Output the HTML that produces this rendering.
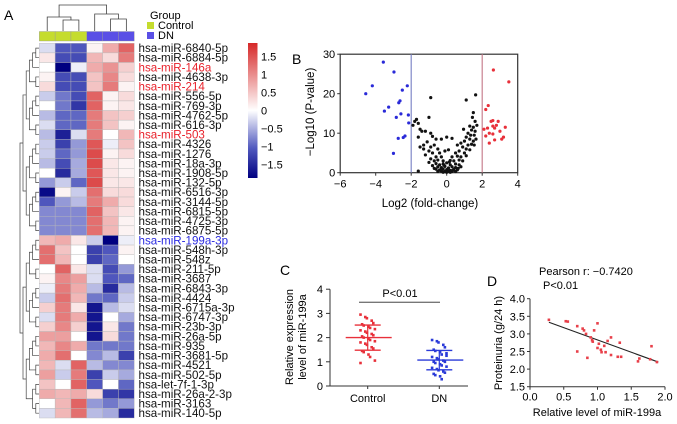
<!DOCTYPE html>
<html><head><meta charset="utf-8"><style>
html,body{margin:0;padding:0;background:#fff}
svg{display:block;font-family:"Liberation Sans",Arial,sans-serif}
</style></head><body>
<svg id="fig" width="677" height="424" viewBox="0 0 677 424">
<g id="pA"></g>
<g id="pB"></g>
<g id="pC"></g>
<g id="pD"></g>
</svg>
<script>
// ---------- Panel A data ----------
const mirLabels=["hsa-miR-6840-5p","hsa-miR-6884-5p","hsa-miR-146a","hsa-miR-4638-3p","hsa-miR-214","hsa-miR-556-5p","hsa-miR-769-3p","hsa-miR-4762-5p","hsa-miR-616-3p","hsa-miR-503","hsa-miR-4326","hsa-miR-1276","hsa-miR-18a-3p","hsa-miR-1908-5p","hsa-miR-132-5p","hsa-miR-6516-3p","hsa-miR-3144-5p","hsa-miR-6815-5p","hsa-miR-4725-3p","hsa-miR-6875-5p","hsa-miR-199a-3p","hsa-miR-548h-3p","hsa-miR-548z","hsa-miR-211-5p","hsa-miR-3687","hsa-miR-6843-3p","hsa-miR-4424","hsa-miR-6715a-3p","hsa-miR-6747-3p","hsa-miR-23b-3p","hsa-miR-26a-5p","hsa-miR-935","hsa-miR-3681-5p","hsa-miR-4521","hsa-miR-502-5p","hsa-let-7f-1-3p","hsa-miR-26a-2-3p","hsa-miR-3163","hsa-miR-140-5p"];
const labelColors={"hsa-miR-146a":"#e8202a","hsa-miR-214":"#e8202a","hsa-miR-503":"#e8202a","hsa-miR-199a-3p":"#2a2ae0"};
const sampleGroups=["Control","Control","Control","DN","DN","DN"];
const heatValues=[
[-0.2,-1,-1,0.1,0.7,1.3],[0.2,-1.1,-1.1,0.6,0.3,1.1],[0,-1.8,-0.1,0.7,0.9,0.4],[0.1,-1.1,-1.1,0.5,1.0,0.3],[0.3,-1.1,-1.1,0.5,1.1,0.1],
[-0.3,-0.8,-1.1,1.3,0.1,0.3],[0,-0.8,-1.3,1.3,0.1,0.2],[-0.4,-0.9,-0.9,1.1,0.5,0.4],[-0.2,-0.9,-0.9,1.1,0.5,0.1],[-0.4,-1.5,-0.2,1.1,0,0.6],
[-0.3,-1.2,-0.6,1.4,-0.1,0.5],[-0.3,-0.9,-0.6,1.5,0.1,0.3],[-0.4,-1.1,-0.5,1.5,0.2,0.1],[0,-1.4,-0.5,1.4,0.2,0.1],[-0.6,-0.3,-0.9,1.5,0.2,0.2],
[-1.7,0.1,-0.3,1.2,0.3,0.3],[-1.0,-0.6,-0.4,1.1,0.7,0.3],[-0.7,-0.7,-0.7,1.3,0.5,0.2],[-0.7,-0.7,-0.7,1.2,0.6,0.1],[-0.7,-0.7,-0.7,1.2,0.6,0.1],
[0.6,0.7,0.2,-0.3,-1.8,-0.1],[1.2,0.5,0,-1.2,-1.0,0.1],[1.2,0.6,0,-1.2,-0.9,0],[0,1.3,0.2,-0.2,-1.1,-0.6],[0.1,1.0,0.8,-0.2,-1.0,-0.9],
[-0.1,1.1,0.7,-0.4,-1.4,-0.4],[-0.3,1.2,0.6,-0.8,-0.9,-0.3],[0.4,1.1,0.2,-1.6,-0.4,-0.2],[-0.2,1.1,0.7,-1.6,0,-0.5],[0.4,1.0,0.4,-1.6,0.2,-0.8],
[0.8,0.8,0,-1.6,0.3,-0.8],[0.6,1.0,0.7,-0.8,-0.8,-0.8],[0.7,1.2,0,-0.7,-0.4,-1.2],[0.6,-0.2,1.3,-0.4,-0.7,-0.7],[0.8,-0.3,1.1,-1.2,-0.3,-0.5],
[0.5,0,1.3,-1.0,0,-0.9],[0.7,0.6,0.7,0.3,-1.2,-1.3],[0,0.6,1.3,-0.6,-0.8,-0.6],[-0.2,0.6,1.2,-0.4,-0.5,-1.4]];
const colorbarTicks=[1.5,1,0.5,0,-0.5,-1,-1.5];
const colorbarTickLabels=["1.5","1","0.5","0","\u22120.5","\u22121","\u22121.5"];

// ---------- Panel B data ----------
const volcXTicks=[-6,-4,-2,0,2,4];
const volcXTickLabels=["\u22126","\u22124","\u22122","0","2","4"];
const volcYTicks=[0,10,20,30];
const volcBlue=[[-3.57,28],[-2.97,25.5],[-4.19,22],[-4.56,20],[-2.22,22],[-2.5,20.9],[-2.63,18.2],[-2.7,17.7],[-3.27,16.6],[-3.51,15.6],[-2.84,14],[-2.58,14.9],[-2.16,14.6],[-2.14,12.6],[-2.73,8.7],[-2.35,9.3],[-2.45,8.9],[-3.0,4.9]];
const volcRed=[[2.63,26],[3.5,23],[2.34,17],[2.2,16],[2.5,13],[2.6,13.2],[2.9,13],[3.3,11.5],[2.1,11],[2.3,11.3],[2.6,11.8],[2.8,12],[2.7,11.3],[2.4,10],[2.6,9.8],[2.2,9.3],[3.1,8.5],[3.2,9],[2.7,8.3],[2.4,7.5],[3.0,10.5]];
const volcBlack=[[-0.9,19],[1.63,19.7],[1.1,18.4],[-1.0,14],[1.5,15.2],[1.45,14],[-1.7,13.5],[-1.8,13],[-1.6,12.5],[-1.9,12],[-1.5,11],[-1.4,10.5],[-1.2,10.5],[1.6,13],[1.7,12],[1.3,11.8],[1.5,11.5],[1.4,10.8],[1.6,10.5],[1.2,10],[1.35,9.5],[1.55,9.5],[-0.9,10],[-0.8,9.2],[-0.6,8.5],[-0.3,8.5],[0,9],[0.3,8.7],[1.1,9],[1.3,8.5],[1.0,8],[1.5,8],[0.8,7.5],[1.2,7],[1.4,7.2],[0.6,7],[-1.1,7.8],[-1.3,7],[-0.9,6.5],[-0.7,7],[-0.5,6],[-1.0,5.5],[-0.8,5],[-0.4,5],[0.9,6.5],[1.1,6],[0.7,5.5],[0.5,5],[1.0,5],[1.3,5.8],[-1.2,4.5],[-0.6,4],[-0.3,4],[0.3,4],[0.6,4.2],[0.8,4],[1.1,4.3],[-0.9,3.5],[-0.7,3],[-0.5,3.2],[-0.2,3],[0.2,3.1],[0.4,3],[0.7,3.2],[0.9,3],[-1.0,2.6],[-0.6,2.3],[-0.4,2],[-0.2,2.2],[0,2.5],[0.2,2],[0.5,2.2],[0.7,2],[-0.8,1.8],[-0.5,1.5],[-0.3,1.3],[-0.1,1.6],[0.1,1.2],[0.3,1.5],[0.5,1.3],[0.8,1.5],[-0.6,0.9],[-0.4,0.7],[-0.2,0.9],[0,0.8],[0.2,0.6],[0.4,0.9],[0.6,0.7],[-0.3,0.4],[-0.1,0.3],[0.1,0.4],[0.3,0.3],[-0.5,0.3],[0.5,0.3],[0,0.1],[-0.2,0.1],[0.2,0.1],[-1.6,0.4],[-1.3,6],[-1.5,6.5],[1.55,7],[1.65,8.5],[-0.1,5.5],[0.1,5.8],[-1.6,9],[0.95,11],[-0.15,1.9],[0.15,2.7],[-0.7,1.1],[0.65,1.1],[0.35,0.6],[-0.35,0.6]];
const volcThresholds=[-2,2];

// ---------- Panel C data ----------
const cCategories=["Control","DN"];
const cYTicks=[0,1,2,3,4];
const cControl=[2.95,2.85,2.8,2.7,2.6,2.55,2.5,2.45,2.4,2.35,2.3,2.25,2.2,2.15,2.1,2.05,2.0,1.95,1.9,1.85,1.8,1.75,1.7,1.6,1.55,1.45,1.4,1.3,1.2,1.05,0.95];
const cDN=[1.9,1.85,1.8,1.7,1.6,1.5,1.45,1.4,1.3,1.25,1.2,1.15,1.1,1.05,1.0,1.0,0.95,0.9,0.85,0.8,0.75,0.7,0.65,0.6,0.55,0.5,0.45,0.4,0.28,1.35];
const cMeans=[2.0,1.07];
const cSDs=[0.52,0.4];

// ---------- Panel D data ----------
const dXTicks=[0,0.5,1.0,1.5,2.0];
const dXTickLabels=["0.0","0.5","1.0","1.5","2.0"];
const dYTicks=[1.5,2.0,2.5,3.0,3.5,4.0];
const dYTickLabels=["1.5","2.0","2.5","3.0","3.5","4.0"];
const dX=[0.28,0.53,0.56,0.7,0.78,0.8,0.83,0.92,0.93,0.95,1.0,1.02,1.05,1.06,1.1,1.12,1.15,1.2,1.2,1.3,1.33,1.35,0.7,0.85,1.6,1.62,1.8,1.78,1.88,0.9,1.0];
const dY=[3.4,3.36,3.35,3.22,3.15,3.1,3.0,2.82,2.78,3.1,3.3,2.72,2.55,2.48,2.66,2.48,2.8,2.9,2.4,2.35,2.75,2.35,2.5,2.32,2.22,2.3,2.65,2.28,2.2,2.9,2.6];
const dFit=[[0.28,3.33],[1.9,2.2]];

const NS="http://www.w3.org/2000/svg";
function mk(parent,tag,attrs,text){const e=document.createElementNS(NS,tag);for(const k in attrs)e.setAttribute(k,attrs[k]);if(text!==undefined)e.textContent=text;parent.appendChild(e);return e;}

// ===== Panel A =====
(function(){
const g=document.getElementById('pA');
let t=mk(g,'text',{x:4,y:20,'font-size':14},'A');


const hx=39.3,cw=15.83,hy=43.3,rh=(418-43.3)/mirLabels.length;
function col(v){
 let r,gg,b;
 if(v>=0){const f=Math.min(v/1.8,1);r=255+(214-255)*f;gg=255+(40-255)*f;b=255+(40-255)*f;}
 else{const f=Math.min(-v/1.8,1);
  if(f<0.55){const q=f/0.55;r=255+(80-255)*q;gg=255+(88-255)*q;b=255+(190-255)*q;}
  else{const q=(f-0.55)/0.45;r=80-80*q;gg=88-88*q;b=190+(128-190)*q;}}
 return `rgb(${r|0},${gg|0},${b|0})`;}
sampleGroups.forEach((s,i)=>{
 const r=mk(g,'rect',{x:hx+i*cw,y:31.5,width:cw,height:9.5,fill:s==="Control"?"#c5dc2e":"#5a4fe6",stroke:"#999",'stroke-width':0.4});
 
 
});
heatValues.forEach((row,ri)=>{
 row.forEach((v,ci)=>{
  const r=mk(g,'rect',{x:hx+ci*cw,y:hy+ri*rh,width:cw,height:rh,fill:col(v),stroke:"#b8b8b8",'stroke-width':0.4});
  
  
 });
 const l=mk(g,'text',{x:138.5,y:hy+(ri+0.5)*rh+4,'font-size':11.6,fill:labelColors[mirLabels[ri]]||"#111"},mirLabels[ri]);
 
 
});
const cx=i=>hx+(i+0.5)*cw;
const dg=mk(g,'g',{stroke:"#444",'stroke-width':0.8,fill:"none"});


mk(dg,'path',{d:`M${cx(1)} 31 V20 H${cx(2)} V31 M${cx(0)} 31 V17 H${(cx(1)+cx(2))/2} V20 M${cx(4)} 31 V19 H${cx(5)} V31 M${cx(3)} 31 V14 H${(cx(4)+cx(5))/2} V19 M${(cx(0)+(cx(1)+cx(2))/2)/2} 17 V5 H${(cx(3)+(cx(4)+cx(5))/2)/2} V14`});
const rd=mk(g,'g',{stroke:"#444",'stroke-width':0.7,fill:"none"});


const ry=i=>hy+(i+0.5)*rh;
function bracket(a,b,xa,xb,x){return `M${xa} ${a} H${x} V${b} H${xb}`;}
let d="";
function tree(s,e,depth){
 if(s===e) return [ry(s),39];
 const m=Math.floor((s+e)/2);
 const A=tree(s,m,depth+1),B=tree(m+1,e,depth+1);
 const x=Math.min(A[1],B[1])-3.2;
 d+=bracket(A[0],B[0],A[1],B[1],x);
 return [(A[0]+B[0])/2,x];
}
const T1=tree(0,19,0),T2=tree(20,38,0);
d+=`M${T1[1]} ${T1[0]} H20 V${T2[0]} H${T2[1]}`;
mk(rd,'path',{d:d});
let lg=mk(g,'g',{});


mk(lg,'text',{x:150,y:19,'font-size':11},'Group');
mk(lg,'rect',{x:147,y:22,width:7,height:7,fill:"#c5dc2e"});
mk(lg,'text',{x:158,y:29,'font-size':11},'Control');
mk(lg,'rect',{x:147,y:32,width:7,height:7,fill:"#5a4fe6"});
mk(lg,'text',{x:158,y:39,'font-size':11},'DN');
const defs=mk(g,'defs',{});
const gr=mk(defs,'linearGradient',{id:'cb',x1:0,y1:0,x2:0,y2:1});
[[0,"rgb(214,40,40)"],[0.5,"#fff"],[0.78,"rgb(80,88,190)"],[1,"rgb(0,0,128)"]].forEach(s=>mk(gr,'stop',{offset:s[0],'stop-color':s[1]}));
const cb=mk(g,'rect',{x:248,y:43,width:9.5,height:135,fill:"url(#cb)"});


const cbY=v=>110.5-v*36;
colorbarTicks.forEach((v,i)=>{
 const tl=mk(g,'text',{x:261,y:cbY(v)+4,'font-size':11},colorbarTickLabels[i]);
 
 
});
})();

// ===== Panel B =====
(function(){
const g=document.getElementById('pB');
const X=v=>446.7+v*17.75, Y=v=>172.7-v*3.95;
let t=mk(g,'text',{x:292,y:64,'font-size':14},'B');


const fr=mk(g,'rect',{x:X(-6),y:Y(30),width:X(4)-X(-6),height:Y(0)-Y(30),fill:"none",stroke:"#333",'stroke-width':1.2});


volcThresholds.forEach(v=>{
 const l=mk(g,'line',{x1:X(v),x2:X(v),y1:Y(30),y2:Y(0),stroke:v<0?"#8088c8":"#c88090",'stroke-width':1.2});
 
 
});
volcXTicks.forEach((v,i)=>{
 mk(g,'line',{x1:X(v),x2:X(v),y1:Y(0),y2:Y(0)+3,stroke:"#333"});
 const tl=mk(g,'text',{x:X(v),y:Y(0)+15,'font-size':11,'text-anchor':'middle'},volcXTickLabels[i]);
 
 
});
volcYTicks.forEach(v=>{
 mk(g,'line',{x1:X(-6)-3,x2:X(-6),y1:Y(v),y2:Y(v),stroke:"#333"});
 const tl=mk(g,'text',{x:X(-6)-5,y:Y(v)+4,'font-size':11,'text-anchor':'end'},String(v));
 
 
});
let xt=mk(g,'text',{x:430,y:207,'font-size':11.5,'text-anchor':'middle'},'Log2 (fold-change)');


let yt=mk(g,'text',{x:0,y:0,'font-size':11.5,'text-anchor':'middle',transform:'translate(314,112) rotate(-90)'},'\u2212Log10 (P-value)');


function pts(arr,c,name){arr.forEach(p=>{
 const e=mk(g,'circle',{cx:X(p[0]),cy:Y(p[1]),r:1.6,fill:c});
 
 
});}
pts(volcBlack,"#111",'volcano-point-ns');
pts(volcBlue,"#2a2ad8",'volcano-point-down');
pts(volcRed,"#e8303a",'volcano-point-up');
})();

// ===== Panel C =====
(function(){
const g=document.getElementById('pC');
const Y=v=>386-v*24.2, CX=[367.7,439.3];
let t=mk(g,'text',{x:280,y:275,'font-size':14},'C');


mk(g,'line',{x1:330,x2:330,y1:Y(4),y2:Y(0),stroke:"#333",'stroke-width':1});
mk(g,'line',{x1:330,x2:468,y1:Y(0),y2:Y(0),stroke:"#333",'stroke-width':1});
cYTicks.forEach(v=>{
 mk(g,'line',{x1:326,x2:330,y1:Y(v),y2:Y(v),stroke:"#333"});
 const tl=mk(g,'text',{x:323,y:Y(v)+4,'font-size':11,'text-anchor':'end'},String(v));
 
 
});
cCategories.forEach((c,i)=>{
 mk(g,'line',{x1:CX[i],x2:CX[i],y1:Y(0),y2:Y(0)+3,stroke:"#333"});
 const tl=mk(g,'text',{x:CX[i],y:Y(0)+16,'font-size':11,'text-anchor':'middle'},c);
 
 
});
let yt=mk(g,'text',{x:0,y:0,'font-size':11,'text-anchor':'middle',transform:'translate(293,337) rotate(-90)'},'Relative expression');


let yt2=mk(g,'text',{x:0,y:0,'font-size':11,'text-anchor':'middle',transform:'translate(306,337) rotate(-90)'},'level of miR-199a');


const series=[cControl,cDN], colors=["#e8303a","#2a3ad8"];
series.forEach((arr,si)=>{
 arr.forEach((v,i)=>{
  const off=((i%5)-2)*3.2+((i%2)?1:-1)*0.8;
  const e=mk(g,'rect',{x:CX[si]+off-1.3,y:Y(v)-1.3,width:2.6,height:2.6,fill:colors[si]});
  
  
 });
 const m=cMeans[si],s=cSDs[si],c=colors[si];
 let ml=mk(g,'line',{x1:CX[si]-22,x2:CX[si]+24,y1:Y(m),y2:Y(m),stroke:c,'stroke-width':1.4});
 
 
 [m+s,m-s].forEach(v=>{
  let el=mk(g,'line',{x1:CX[si]-13,x2:CX[si]+13,y1:Y(v),y2:Y(v),stroke:c,'stroke-width':1.4});
  
  
 });
 mk(g,'line',{x1:CX[si],x2:CX[si],y1:Y(m+s),y2:Y(m-s),stroke:c,'stroke-width':1.2});
});
let sb=mk(g,'line',{x1:359,x2:440,y1:302.3,y2:302.3,stroke:"#777",'stroke-width':1.3});


let st=mk(g,'text',{x:400,y:297,'font-size':11,'text-anchor':'middle'},'P<0.01');


})();

// ===== Panel D =====
(function(){
const g=document.getElementById('pD');
const X=v=>530+v*67.5, Y=v=>386.7-(v-1.5)*35.2;
let t=mk(g,'text',{x:487,y:286,'font-size':14},'D');


let a1=mk(g,'text',{x:539,y:275,'font-size':11},'Pearson r: \u22120.7420');


let a2=mk(g,'text',{x:543,y:289,'font-size':11},'P<0.01');


mk(g,'line',{x1:X(0),x2:X(0),y1:Y(4),y2:Y(1.5),stroke:"#333"});
mk(g,'line',{x1:X(0),x2:X(2),y1:Y(1.5),y2:Y(1.5),stroke:"#333"});
dXTicks.forEach((v,i)=>{
 mk(g,'line',{x1:X(v),x2:X(v),y1:Y(1.5),y2:Y(1.5)+3,stroke:"#333"});
 const tl=mk(g,'text',{x:X(v),y:Y(1.5)+14,'font-size':11,'text-anchor':'middle'},dXTickLabels[i]);
 
 
});
dYTicks.forEach((v,i)=>{
 mk(g,'line',{x1:X(0)-3,x2:X(0),y1:Y(v),y2:Y(v),stroke:"#333"});
 const tl=mk(g,'text',{x:X(0)-5,y:Y(v)+4,'font-size':11,'text-anchor':'end'},dYTickLabels[i]);
 
 
});
let xt=mk(g,'text',{x:597,y:416,'font-size':11,'text-anchor':'middle'},'Relative level of miR-199a');


let yt=mk(g,'text',{x:0,y:0,'font-size':11,'text-anchor':'middle',transform:'translate(502,343) rotate(-90)'},'Proteinuria (g/24 h)');


let fl=mk(g,'line',{x1:X(dFit[0][0]),y1:Y(dFit[0][1]),x2:X(dFit[1][0]),y2:Y(dFit[1][1]),stroke:"#222",'stroke-width':1.1});


dX.forEach((v,i)=>{
 const e=mk(g,'rect',{x:X(v)-1.3,y:Y(dY[i])-1.3,width:2.6,height:2.6,fill:"#e8404a"});
 
 
});
})();
</script>
</body></html>
